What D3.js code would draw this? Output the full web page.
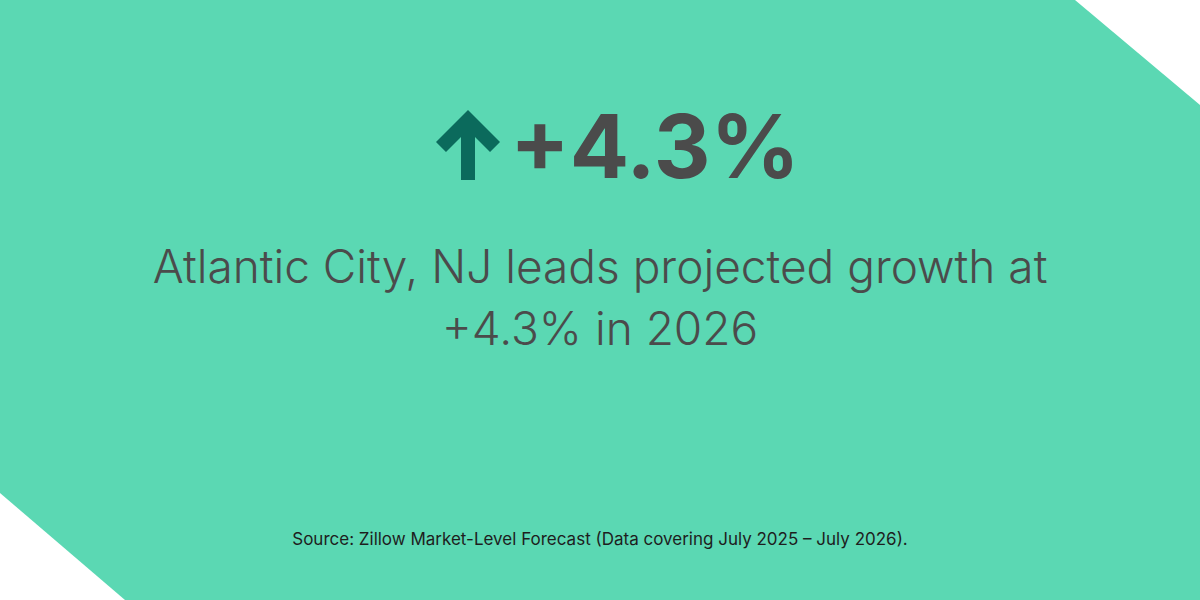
<!DOCTYPE html>
<html>
<head>
<meta charset="utf-8">
<script src="https://cdn.jsdelivr.net/npm/d3@7"></script>
<style>
  body { margin: 0; background: #fff; }
  svg { display: block; }
</style>
</head>
<body>
<svg id="chart" width="1200" height="600"></svg>
<script>
// figures shown on the card
var headlineValue = [4.3];
var headlineLines = ["Atlantic City, NJ leads projected growth at", "+4.3% in 2026"];
var sourceNote = ["Source: Zillow Market-Level Forecast (Data covering July 2025 \u2013 July 2026)."];

var width = 1200, height = 600;
var svg = d3.select("#chart");

// green background with clipped corners
svg.append("polygon")
  .attr("points", [[0,0],[1075,0],[1200,105],[1200,600],[125,600],[0,493]].map(function(p){return p.join(",");}).join(" "))
  .attr("fill", "#5BD8B3");

var fmt = d3.format("+.1f");

// arrow
var arrow = svg.append("g").attr("transform", "translate(468,0)");
arrow.append("rect").attr("x", -7).attr("y", 120).attr("width", 14).attr("height", 60).attr("fill", "#0B6A5C");
arrow.append("path")
  .attr("d", "M-32,142 L0,110 L32,142 L22,152 L0,130 L-22,152 Z")
  .attr("fill", "#0B6A5C");

svg.selectAll("text.big").data(headlineValue).enter()
  .append("text")
  .attr("class", "big")
  .attr("x", 510).attr("y", 178)
  .attr("font-family", "Inter, sans-serif")
  .attr("font-weight", 700)
  .attr("font-size", 88)
  .attr("fill", "#4B4B4B")
  .text(function(d){ return fmt(d) + "%"; });

svg.selectAll("text.sub").data(headlineLines).enter()
  .append("text")
  .attr("class", "sub")
  .attr("x", width / 2)
  .attr("y", function(d, i){ return 283 + i * 62; })
  .attr("text-anchor", "middle")
  .attr("font-family", "Inter, sans-serif")
  .attr("font-weight", 300)
  .attr("font-size", 46)
  .attr("fill", "#4B4B4B")
  .text(function(d){ return d; });

svg.selectAll("text.src").data(sourceNote).enter()
  .append("text")
  .attr("class", "src")
  .attr("x", width / 2)
  .attr("y", 545)
  .attr("text-anchor", "middle")
  .attr("font-family", "Inter, sans-serif")
  .attr("font-size", 17)
  .attr("fill", "#1E1E1E")
  .text(function(d){ return d; });
</script>
</body>
</html>
